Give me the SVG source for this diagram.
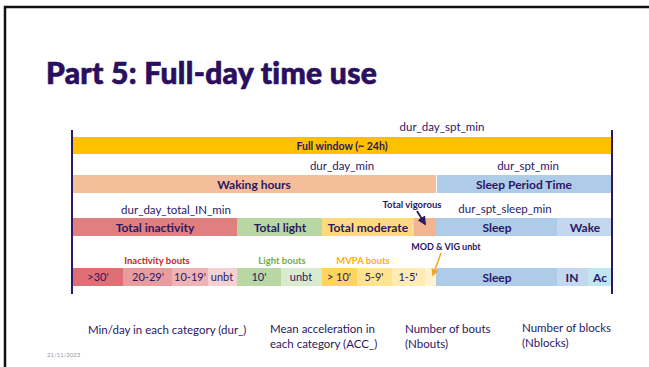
<svg xmlns="http://www.w3.org/2000/svg" width="649" height="367" viewBox="0 0 649 367">
  <defs>
    <style>
      text { font-family: Lato, "Open Sans", "Liberation Sans", sans-serif; fill: #2b1763; }
      .title { font-size: 30px; font-weight: 900; letter-spacing: 0.3px; fill: #2a0f5f; stroke: #2a0f5f; stroke-width: 0.7px; }
      .var { font-size: 11.5px; text-anchor: middle; }
      .bar { font-size: 12px; font-weight: bold; text-anchor: middle; }
      .small { font-size: 10.5px; font-weight: bold; text-anchor: middle; }
      .bout { font-size: 9.5px; font-weight: bold; text-anchor: middle; }
      .cell { font-size: 11px; text-anchor: middle; }
      .note { font-size: 11.5px; }
      .axis { stroke: #2b1763; stroke-width: 2; }
    </style>
    <marker id="headDark" viewBox="0 0 10 10" refX="8" refY="5" markerWidth="5" markerHeight="5" orient="auto">
      <path d="M0,0 L10,5 L0,10 z" fill="#2b1763"/>
    </marker>
    <marker id="headOrange" viewBox="0 0 10 10" refX="8" refY="5" markerWidth="5" markerHeight="5" orient="auto">
      <path d="M0,0 L10,5 L0,10 z" fill="#f5a623"/>
    </marker>
  </defs>

  <!-- slide frame -->
  <path d="M5,367 V7 H649" fill="none" stroke="#111" stroke-width="2.5"/>

  <text class="title" x="46" y="84">Part 5: Full-day time use</text>

  <!-- time axis limits -->
  <line class="axis" x1="72" y1="130" x2="72" y2="294"/>
  <line class="axis" x1="612" y1="130" x2="612" y2="294"/>

  <!-- row 1: full window -->
  <g id="full-window">
    <rect x="73" y="137" width="538" height="17" fill="#ffc000"/>
    <text class="small" x="342" y="149.5">Full window (~ 24h)</text>
    <text class="var" x="442" y="131">dur_day_spt_min</text>
  </g>

  <!-- row 2: waking / sleep period -->
  <g id="waking-hours">
    <rect x="73" y="175" width="363" height="18" fill="#f4be9a"/>
    <text class="bar" x="254" y="188.5">Waking hours</text>
    <text class="var" x="342" y="170">dur_day_min</text>
  </g>
  <g id="sleep-period">
    <rect x="437" y="175" width="174" height="18" fill="#aecbe8"/>
    <text class="bar" x="524" y="188.5">Sleep Period Time</text>
    <text class="var" x="528" y="170">dur_spt_min</text>
  </g>

  <!-- row 3: activity totals -->
  <g id="total-inactivity">
    <rect x="73" y="218" width="164" height="18" fill="#e07f7f"/>
    <text class="bar" x="155" y="231.5">Total inactivity</text>
    <text class="var" x="176" y="214">dur_day_total_IN_min</text>
  </g>
  <g id="total-light">
    <rect x="237" y="218" width="85" height="18" fill="#b8d7a3"/>
    <text class="bar" x="280" y="231.5">Total light</text>
  </g>
  <g id="total-moderate">
    <rect x="322" y="218" width="92" height="18" fill="#ffd97d"/>
    <text class="bar" x="368" y="231.5">Total moderate</text>
  </g>
  <g id="total-vigorous">
    <rect x="414" y="218" width="22" height="18" fill="#f2b591"/>
    <text class="bout" x="412" y="208">Total vigorous</text>
  </g>
  <g id="sleep-total">
    <rect x="436" y="218" width="121" height="18" fill="#aecbe8"/>
    <text class="bar" x="497" y="231.5">Sleep</text>
    <text class="var" x="505" y="213">dur_spt_sleep_min</text>
  </g>
  <g id="wake-total">
    <rect x="557" y="218" width="54" height="18" fill="#c3d8ee"/>
    <text class="bar" x="585" y="231.5">Wake</text>
  </g>

  <!-- row 4: bouts -->
  <g id="inactivity-bouts">
    <rect x="73" y="268" width="50" height="18" fill="#dd6f75"/>
    <rect x="123" y="268" width="49" height="18" fill="#e99c9e"/>
    <rect x="172" y="268" width="36" height="18" fill="#eeb3b4"/>
    <rect x="208" y="268" width="29" height="18" fill="#f4d2d2"/>
    <text class="cell" x="98" y="281">&gt;30'</text>
    <text class="cell" x="148" y="281">20-29'</text>
    <text class="cell" x="190" y="281">10-19'</text>
    <text class="cell" x="222" y="281">unbt</text>
    <text class="bout" x="157" y="264" style="fill:#d42027">Inactivity bouts</text>
  </g>
  <g id="light-bouts">
    <rect x="237" y="268" width="44" height="18" fill="#b8d7a3"/>
    <rect x="281" y="268" width="41" height="18" fill="#d9ebcf"/>
    <text class="cell" x="259" y="281">10'</text>
    <text class="cell" x="301" y="281">unbt</text>
    <text class="bout" x="282" y="264" style="fill:#70ad47">Light bouts</text>
  </g>
  <g id="mvpa-bouts">
    <rect x="322" y="268" width="35" height="18" fill="#ffd45e"/>
    <rect x="357" y="268" width="35" height="18" fill="#ffe390"/>
    <rect x="392" y="268" width="33" height="18" fill="#ffebb3"/>
    <rect x="425" y="268" width="11" height="18" fill="#fff2d1"/>
    <text class="cell" x="339" y="281">&gt; 10'</text>
    <text class="cell" x="374" y="281">5-9'</text>
    <text class="cell" x="408" y="281">1-5'</text>
    <text class="bout" x="363" y="264" style="fill:#ffb000">MVPA bouts</text>
    <text class="bout" x="446" y="250" style="font-size:9px">MOD &amp; VIG unbt</text>
  </g>
  <g id="spt-blocks">
    <rect x="436" y="268" width="121" height="18" fill="#aecbe8"/>
    <rect x="557" y="268" width="31" height="18" fill="#c3d8ee"/>
    <rect x="588" y="268" width="23" height="18" fill="#c2e6ef"/>
    <text class="bar" x="497" y="281.5">Sleep</text>
    <text class="bar" x="572" y="281.5">IN</text>
    <text class="bar" x="600" y="281.5">Ac</text>
  </g>

  <!-- pointers -->
  <g id="connectors">
    <line x1="417" y1="211" x2="425" y2="224" stroke="#2b1763" stroke-width="1.8" marker-end="url(#headDark)"/>
    <line x1="441" y1="253" x2="433" y2="275" stroke="#f5a623" stroke-width="1.5" marker-end="url(#headOrange)"/>
  </g>

  <!-- legend of variable families -->
  <g id="legend">
    <text class="note" x="88" y="334">Min/day in each category (dur_)</text>
    <text class="note" x="270" y="333">Mean acceleration in</text>
    <text class="note" x="270" y="348">each category (ACC_)</text>
    <text class="note" x="405" y="333">Number of bouts</text>
    <text class="note" x="405" y="348">(Nbouts)</text>
    <text class="note" x="522" y="332">Number of blocks</text>
    <text class="note" x="522" y="347">(Nblocks)</text>
  </g>

  <text x="47" y="357" style="font-size:6px; fill:#999">21/11/2023</text>
</svg>
